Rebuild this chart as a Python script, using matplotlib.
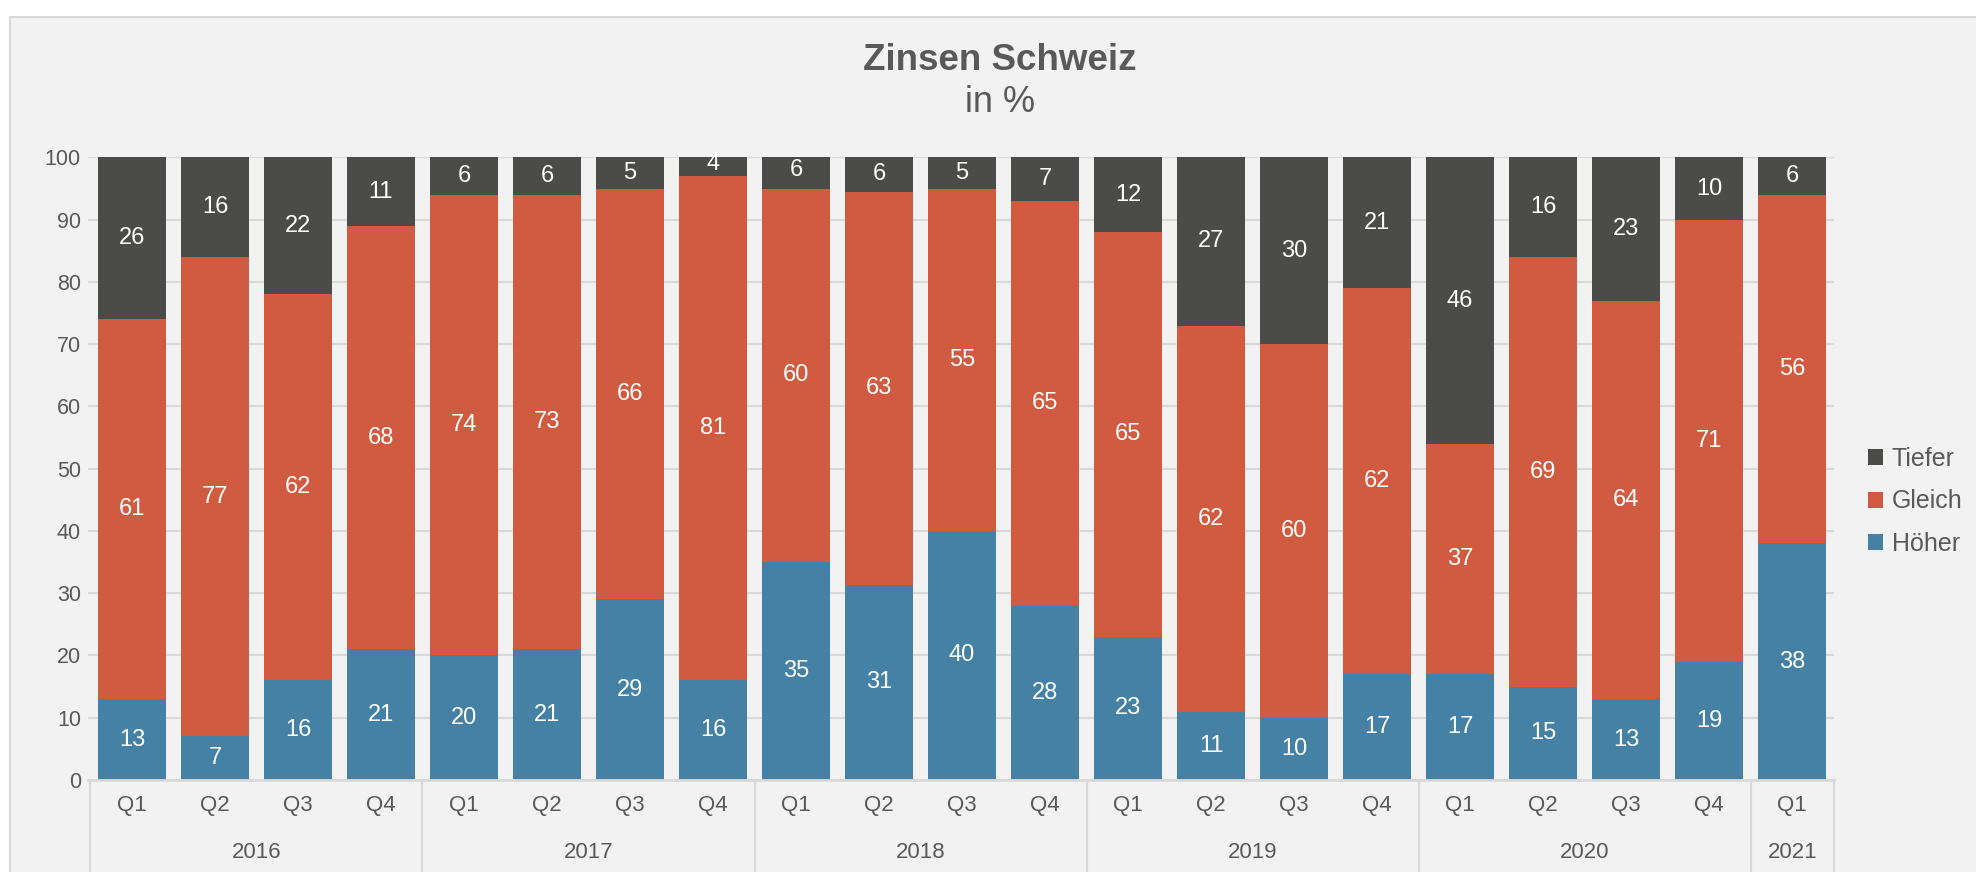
import numpy as np
import matplotlib.pyplot as plt
import matplotlib.transforms as mtransforms
from matplotlib.patches import Rectangle

plt.rcParams['font.family'] = ['Liberation Sans', 'DejaVu Sans']

# Daten
quartale = ['Q1', 'Q2', 'Q3', 'Q4'] * 5 + ['Q1']
jahre = ['2016'] * 4 + ['2017'] * 4 + ['2018'] * 4 + ['2019'] * 4 + ['2020'] * 4 + ['2021']
hoeher = [13, 7, 16, 21, 20, 21, 29, 16, 35, 31.4, 40, 28, 23, 11, 10, 17, 17, 15, 13, 19, 38]
gleich = [61, 77, 62, 68, 74, 73, 66, 81, 60, 63.1, 55, 65, 65, 62, 60, 62, 37, 69, 64, 71, 56]
tiefer = [26, 16, 22, 11, 6, 6, 5, 4, 6, 5.6, 5, 7, 12, 27, 30, 21, 46, 16, 23, 10, 6]

serien = [('Höher', hoeher, '#4581a5'),
          ('Gleich', gleich, '#d15b40'),
          ('Tiefer', tiefer, '#4b4b49')]

textfarbe = '#595959'
linienfarbe = '#d9d9d9'

fig = plt.figure(figsize=(19.76, 8.72), dpi=100)
fig.patch.set_facecolor('white')
# grauer Hintergrund
fig.patches.append(Rectangle((0.005, -0.01), 1.0, 0.99, transform=fig.transFigure,
                             facecolor='#f2f2f2', edgecolor=linienfarbe, linewidth=1.5, zorder=-10))

ax = fig.add_axes([0.0445, 0.1055, 0.8835, 0.714])
ax.set_facecolor('none')

x = np.arange(len(quartale))
unten = np.zeros(len(x))
handles = {}
for name, werte, farbe in serien:
    werte = np.array(werte, dtype=float)
    b = ax.bar(x, werte, 0.82, bottom=unten, color=farbe, label=name, zorder=3)
    handles[name] = b
    for xi, u, w in zip(x, unten, werte):
        ax.text(xi, u + w / 2, '%.0f' % w, ha='center', va='center',
                color='white', fontsize=17, zorder=4)
    unten = unten + werte

ax.set_ylim(0, 100)
ax.set_xlim(-0.53, 20.5)
ax.set_yticks(np.arange(0, 101, 10))
ax.yaxis.grid(True, color=linienfarbe, linewidth=1.5, zorder=0)
ax.tick_params(axis='y', length=0, labelsize=15.5, labelcolor=textfarbe, pad=5)
ax.set_xticks(x)
ax.set_xticklabels(quartale)
ax.tick_params(axis='x', length=0, labelsize=16, labelcolor=textfarbe, pad=11)
for s in ['top', 'right', 'left']:
    ax.spines[s].set_visible(False)
ax.spines['bottom'].set_color(linienfarbe)
ax.spines['bottom'].set_linewidth(2)
ax.spines['bottom'].set_zorder(5)

# Jahresgruppen
trans = mtransforms.blended_transform_factory(ax.transData, ax.transAxes)
grenzen = [-0.5]
for i in range(1, len(jahre)):
    if jahre[i] != jahre[i - 1]:
        grenzen.append(i - 0.5)
grenzen.append(len(jahre) - 0.5)
for g in grenzen:
    ax.plot([g, g], [0, -0.148], transform=trans, color=linienfarbe,
            linewidth=1.5, clip_on=False)
for a, b in zip(grenzen[:-1], grenzen[1:]):
    ax.text((a + b) / 2, -0.116, jahre[int(a + 0.5)], transform=trans,
            ha='center', va='center', fontsize=16, color=textfarbe)

fig.text(0.506, 0.931, 'Zinsen Schweiz', ha='center', va='center',
         fontsize=26.5, fontweight='bold', color=textfarbe)
fig.text(0.506, 0.883, 'in %', ha='center', va='center',
         fontsize=26, color=textfarbe)

leg = fig.legend([handles['Tiefer'], handles['Gleich'], handles['Höher']],
                 ['Tiefer', 'Gleich', 'Höher'], loc='center left',
                 bbox_to_anchor=(0.934, 0.425), frameon=False, fontsize=18,
                 handlelength=0.6, handleheight=0.6, handletextpad=0.35,
                 labelspacing=0.75)
for t in leg.get_texts():
    t.set_color(textfarbe)

fig.savefig('out.png', dpi=100)
